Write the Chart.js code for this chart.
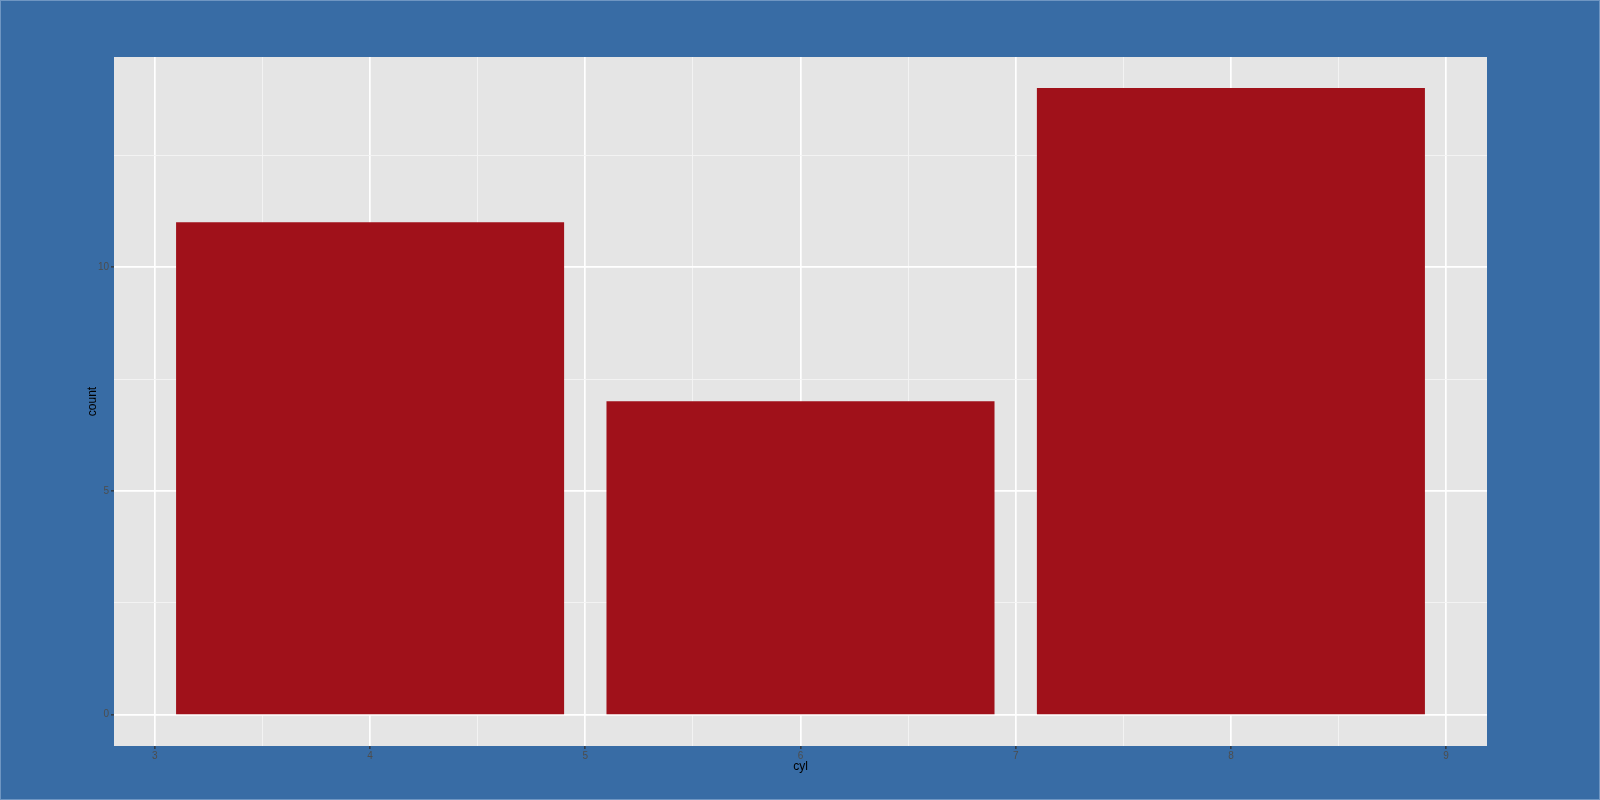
<!DOCTYPE html>
<html>
<head>
<meta charset="utf-8">
<script src="https://cdn.jsdelivr.net/npm/chart.js@4"></script>
<style>
  body { margin: 0; background: #386ca5; }
  canvas { display: block; }
</style>
</head>
<body>
<canvas id="chart" width="1600" height="800"></canvas>
<script>
// mtcars: number of cars per cylinder count
const cylinders = [4, 6, 8];
const counts = [11, 7, 14];
const xTicks = [3, 4, 5, 6, 7, 8, 9];
const yTicks = [0, 5, 10];

const bg = '#386ca5';
const panel = '#e5e5e5';
const barColor = '#a0111a';

// ggplot style: minor grid halfway between majors
function withMinors(major) {
  const out = [];
  major.forEach((v, i) => {
    out.push({ value: v, major: true });
    if (i < major.length - 1) out.push({ value: (v + major[i + 1]) / 2, major: false });
  });
  return out;
}

const backgrounds = {
  id: 'backgrounds',
  beforeDraw(chart) {
    const { ctx, chartArea: a } = chart;
    ctx.save();
    ctx.fillStyle = bg;
    ctx.fillRect(0, 0, chart.width, chart.height);
    ctx.strokeStyle = '#6f96c2';
    ctx.lineWidth = 1;
    ctx.strokeRect(0.5, 0.5, chart.width - 1, chart.height - 1);
    ctx.fillStyle = panel;
    ctx.fillRect(a.left, a.top, a.right - a.left, a.bottom - a.top);
    ctx.restore();
  }
};

const gridStyle = {
  color: c => c.tick && c.tick.major ? '#ffffff' : '#f4f4f4',
  lineWidth: c => c.tick && c.tick.major ? 1.7 : 0.9,
  tickColor: c => c.tick && c.tick.major ? '#333333' : 'rgba(0,0,0,0)',
  tickLength: 3,
  tickWidth: 1.3
};

new Chart(document.getElementById('chart'), {
  type: 'bar',
  data: {
    datasets: [{
      data: cylinders.map((c, i) => ({ x: c, y: counts[i] })),
      backgroundColor: barColor,
      borderWidth: 0,
      barThickness: 'flex',
      barPercentage: 0.9,
      categoryPercentage: 1
    }]
  },
  options: {
    responsive: false,
    devicePixelRatio: 1,
    animation: false,
    layout: { padding: { left: 0, top: 57, right: 113, bottom: 0 } },
    plugins: { legend: { display: false }, tooltip: { enabled: false } },
    scales: {
      x: {
        type: 'linear',
        min: 2.81,
        max: 9.19,
        offset: false,
        border: { display: false },
        grid: Object.assign({ offset: false }, gridStyle),
        afterBuildTicks: s => { s.ticks = withMinors(xTicks); },
        afterFit: s => { s.height = 54; },
        ticks: {
          autoSkip: false,
          maxRotation: 0,
          padding: 1,
          color: '#4d4d4d',
          font: { family: 'Liberation Sans', size: 10 },
          callback: (v, i, t) => t[i].major ? String(v) : ''
        },
        title: {
          display: true,
          text: 'cyl',
          color: '#000000',
          font: { family: 'Liberation Sans', size: 12 },
          padding: { top: 0, bottom: 26 }
        }
      },
      y: {
        type: 'linear',
        min: -0.7,
        max: 14.7,
        border: { display: false },
        grid: gridStyle,
        afterBuildTicks: s => { s.ticks = withMinors(yTicks.concat([15])).filter(t => t.value <= 14.7); },
        afterFit: s => { s.width = 114; },
        ticks: {
          autoSkip: false,
          padding: 2,
          color: '#4d4d4d',
          font: { family: 'Liberation Sans', size: 10 },
          callback: (v, i, t) => t[i].major ? String(v) : ''
        },
        title: {
          display: true,
          text: 'count',
          color: '#000000',
          font: { family: 'Liberation Sans', size: 12 },
          padding: { top: 85, bottom: 0 }
        }
      }
    }
  },
  plugins: [backgrounds]
});
</script>
</body>
</html>
